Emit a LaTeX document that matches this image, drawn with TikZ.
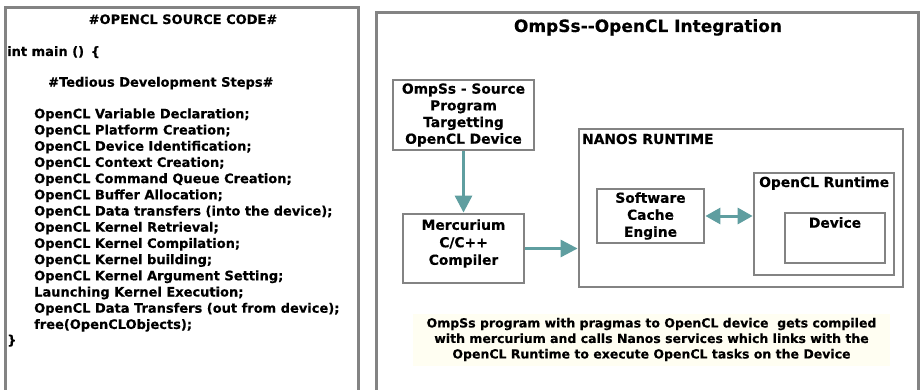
\documentclass[tikz,border=0pt]{standalone}
\usepackage{fontspec}
\setmainfont{DejaVu Sans}[BoldFeatures={FakeBold=0.4}]
\usetikzlibrary{arrows.meta}
\definecolor{bordergray}{HTML}{838383}
\definecolor{arrowteal}{HTML}{5F9EA0}
\definecolor{cream}{HTML}{FFFEF2}
\tikzset{
  panel/.style={draw=bordergray, line width=3pt},
  box/.style={draw=bordergray, line width=2.8pt, fill=white, align=center,
    inner sep=0pt, font=\bfseries\fontsize{13.8}{17}\selectfont},
  lbl/.style={inner sep=0pt, align=center, font=\bfseries\fontsize{13.8}{17}\selectfont},
  codetxt/.style={inner sep=0pt, anchor=base west, font=\bfseries\fontsize{13}{15}\selectfont},
  flow/.style={draw=arrowteal, line width=3pt, -{Triangle[length=17pt,width=17pt]}},
  biflow/.style={draw=arrowteal, line width=3pt, {Triangle[length=15pt,width=16pt]}-{Triangle[length=15pt,width=16pt]}}
}
\begin{document}
\begin{tikzpicture}[x=1pt,y=-1pt]
\useasboundingbox (0,0) rectangle (920,390);
% panels
\draw[panel] (5,395) -- (5,8) -- (358,8) -- (358,395);
\draw[panel] (376,395) -- (376,13) -- (918,13) -- (918,395);

% left panel text
\node[inner sep=0pt, anchor=base, font=\bfseries\fontsize{13}{15}\selectfont] (ltitle) at (183,24) {\#OPENCL SOURCE CODE\#};
\node[codetxt] (intmain) at (7,56) {int main ()\, \{};
\node[codetxt] (tedious) at (48,86.7) {\#Tedious Development Steps\#};
\foreach \t [count=\i from 0] in {
  {OpenCL Variable Declaration;},
  {OpenCL Platform Creation;},
  {OpenCL Device Identification;},
  {OpenCL Context Creation;},
  {OpenCL Command Queue Creation;},
  {OpenCL Buffer Allocation;},
  {OpenCL Data transfers (into the device);},
  {OpenCL Kernel Retrieval;},
  {OpenCL Kernel Compilation;},
  {OpenCL Kernel building;},
  {OpenCL Kernel Argument Setting;},
  {Launching Kernel Execution;},
  {OpenCL Data Transfers (out from device);},
  {free(OpenCLObjects);}}
  \node[codetxt] (step\i) at (34,118.3+16.2*\i) {\t};
\node[codetxt] (closebrace) at (7,344.5) {\}};

% right panel
\node[inner sep=0pt, anchor=base, font=\bfseries\fontsize{17}{20}\selectfont] (rtitle) at (648,32) {OmpSs{-}{-}OpenCL Integration};

\node[box, font=\bfseries\fontsize{13.8}{16.7}\selectfont, minimum width=141pt, minimum height=70pt] (src) at (463.5,115)
  {OmpSs - Source\\Program\\Targetting\\OpenCL Device};
\node[box, minimum width=121pt, minimum height=69pt] (merc) at (463.5,248.5) {};
\node[lbl, font=\bfseries\fontsize{13.8}{17.5}\selectfont] (merclbl) at (463.5,243.5) {Mercurium\\C/C++\\Compiler};
\node[box, minimum width=324pt, minimum height=158pt] (nanos) at (741,208) {};
\node[lbl, anchor=base west] (nanoslbl) at (582,144) {NANOS RUNTIME};
\node[box, minimum width=107pt, minimum height=54pt] (sce) at (650.5,216)
  {Software\\Cache\\Engine};
\node[box, minimum width=140pt, minimum height=102pt] (oclrt) at (824,224) {};
\node[lbl, anchor=base west] (oclrtlbl) at (759,187) {OpenCL Runtime};
\node[box, minimum width=100pt, minimum height=50pt] (dev) at (835,238) {};
\node[lbl, anchor=base] (devlbl) at (835,227.7) {Device};

\draw[flow] (src.south) -- (merc.north);
\draw[flow] (merc.east) -- (merc.east -| nanos.west);
\draw[biflow] (sce.east) -- (sce.east -| oclrt.west);

\node[fill=cream, minimum width=477pt, minimum height=52pt, inner sep=0pt, align=center,
  font=\bfseries\fontsize{12.5}{15.5}\selectfont] (summary) at (651.5,339.5)
  {OmpSs program with pragmas to OpenCL device\ \ gets compiled\\
   with mercurium and calls Nanos services which links with the\\
   OpenCL Runtime to execute OpenCL tasks on the Device};
\end{tikzpicture}
\end{document}
